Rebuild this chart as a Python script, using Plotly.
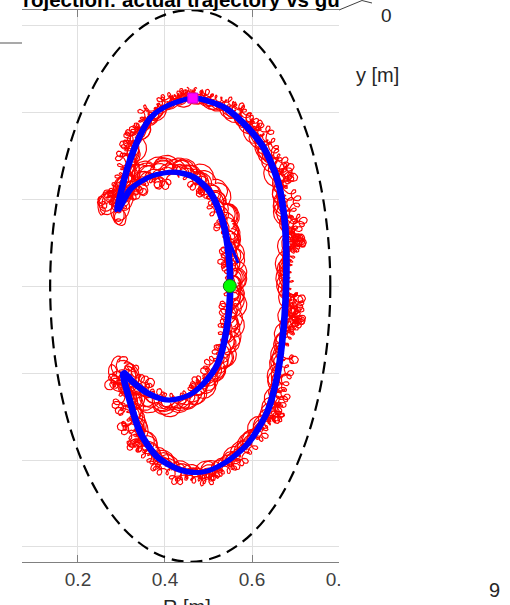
import numpy as np
import plotly.graph_objects as go

# Guiding-centre path knots in the poloidal plane (R, Z), metres
gc_R = [0.464, 0.533, 0.579, 0.625, 0.658, 0.674, 0.678, 0.676, 0.671, 0.658,
        0.635, 0.589, 0.533, 0.481, 0.435, 0.382, 0.343, 0.320, 0.303, 0.326,
        0.359, 0.405, 0.451, 0.487, 0.520, 0.540, 0.549, 0.543, 0.531, 0.503,
        0.464, 0.418, 0.366, 0.320, 0.290, 0.297, 0.313, 0.336, 0.366, 0.405,
        0.464]
gc_Z = [0.432, 0.412, 0.375, 0.320, 0.244, 0.152, 0.060, -0.032, -0.101, -0.200,
        -0.285, -0.361, -0.407, -0.428, -0.423, -0.393, -0.338, -0.269, -0.198, -0.221,
        -0.246, -0.262, -0.251, -0.223, -0.177, -0.101, 0.000, 0.094, 0.152, 0.216,
        0.251, 0.262, 0.253, 0.225, 0.175, 0.214, 0.274, 0.336, 0.389, 0.416,
        0.432]
# Centre of the full-orbit band relative to the guiding centre, metres
band_dR = [0.000, 0.004, 0.008, 0.012, 0.014, 0.014, 0.014, 0.014, 0.013, 0.012,
           0.010, 0.006, 0.002, 0.000, -0.002, -0.004, -0.006, -0.007, -0.007, -0.004,
           0.000, 0.002, 0.004, 0.006, 0.008, 0.010, 0.010, 0.010, 0.009, 0.006,
           0.003, 0.000, -0.002, -0.004, -0.005, -0.005, -0.004, -0.003, -0.002, 0.000,
           0.000]
band_dZ = [0.008, 0.007, 0.005, 0.002, 0.000, 0.000, 0.000, 0.000, 0.000, -0.002,
           -0.005, -0.007, -0.008, -0.008, -0.008, -0.007, -0.005, -0.003, 0.000, -0.003,
           -0.005, -0.005, -0.005, -0.004, -0.001, 0.000, 0.000, 0.001, 0.002, 0.004,
           0.005, 0.005, 0.005, 0.002, -0.004, 0.000, 0.004, 0.006, 0.007, 0.008,
           0.008]
# Half-width of the full-orbit band (slow excursion), metres
excursion = [0.013, 0.016, 0.019, 0.023, 0.025, 0.025, 0.025, 0.025, 0.024, 0.023,
             0.022, 0.019, 0.018, 0.018, 0.019, 0.022, 0.025, 0.029, 0.032, 0.031,
             0.027, 0.023, 0.021, 0.021, 0.022, 0.022, 0.022, 0.022, 0.023, 0.025,
             0.026, 0.027, 0.028, 0.030, 0.031, 0.029, 0.025, 0.020, 0.017, 0.014,
             0.013]
# Larmor radius (small loops), metres
larmor = [0.007, 0.007, 0.008, 0.008, 0.009, 0.009, 0.009, 0.009, 0.009, 0.008,
          0.008, 0.008, 0.008, 0.008, 0.008, 0.008, 0.009, 0.009, 0.010, 0.010,
          0.009, 0.008, 0.008, 0.008, 0.008, 0.008, 0.008, 0.008, 0.008, 0.008,
          0.008, 0.009, 0.009, 0.010, 0.010, 0.010, 0.009, 0.008, 0.008, 0.007,
          0.007]

# Full-orbit turns: amplitude scale and phase per turn
turn_scale = [1.0, 0.8, 0.6, 1.1, 0.9, 0.45, 0.7, 1.2, 0.35, 0.95]
turn_phase = [0.0, 0.63, 1.26, 1.88, 2.51, 3.14, 3.77, 4.40, 5.03, 5.65]
gyro_pitch = 0.024      # drift along the path per gyration, m
wobble_pitch = 0.14     # drift along the path per slow excursion, m

# Guiding-centre turns (small spread between successive passes)
gc_turn_dR = [0.000, 0.004, -0.003, 0.005]
gc_turn_dZ = [0.000, 0.002, -0.002, -0.002]
gc_stub_R = [0.549, 0.568]
gc_stub_Z = [0.099, 0.053]

# Vessel wall (ellipse) and start / end points
wall_R0, wall_Z0, wall_a, wall_b = 0.458, 0.0, 0.322, 0.634
start_R, start_Z = 0.549, 0.0
end_R, end_Z = 0.464, 0.432

x_ticks = [0.2, 0.4, 0.6, 0.8]
x_ticktext = ["0.2", "0.4", "0.6", "0.8"]
y_ticks = [-0.6, -0.4, -0.2, 0.0, 0.2, 0.4, 0.6]

# ---- full orbit = guiding centre + band offset + slow excursion + gyration ----
R = np.array(gc_R)
Z = np.array(gc_Z)
s_knot = np.concatenate([[0.0], np.cumsum(np.hypot(np.diff(R), np.diff(Z)))])
s = np.arange(0.0, s_knot[-1], gyro_pitch / 26)

def along(values):
    return np.interp(s, s_knot, np.array(values))

Rc = along(gc_R) + along(band_dR)
Zc = along(gc_Z) + along(band_dZ)
rc = along(larmor)
ec = along(excursion)

fig = go.Figure()
for k in range(len(turn_scale)):
    phi = 2 * np.pi * s / (gyro_pitch * (1 + 0.04 * k)) + turn_phase[k]
    psi = 2 * np.pi * s / (wobble_pitch * (1 + 0.09 * k)) + 1.9 * turn_phase[k]
    sc = turn_scale[k]
    fig.add_trace(go.Scatter(
        x=Rc + sc * ec * np.cos(psi) + rc * np.cos(phi),
        y=Zc + sc * ec * np.sin(psi) + rc * np.sin(phi),
        mode="lines", line=dict(color="#ff0000", width=1.15),
        hoverinfo="skip"))

for k in range(len(gc_turn_dR)):
    fig.add_trace(go.Scatter(
        x=[r + gc_turn_dR[k] for r in gc_R],
        y=[z + gc_turn_dZ[k] for z in gc_Z],
        mode="lines", line=dict(color="#0000ff", width=3.2, shape="spline", smoothing=0.8),
        hoverinfo="skip"))
fig.add_trace(go.Scatter(x=gc_stub_R, y=gc_stub_Z, mode="lines",
                         line=dict(color="#0000ff", width=3)))

fig.add_trace(go.Scatter(x=[start_R], y=[start_Z], mode="markers",
                         marker=dict(symbol="circle", size=13, color="#00ff00",
                                     line=dict(color="#1a6b1a", width=1))))
fig.add_trace(go.Scatter(x=[end_R], y=[end_Z], mode="markers",
                         marker=dict(symbol="square", size=10, color="#ff00ff",
                                     line=dict(color="#d000d0", width=1))))

# vessel wall
fig.add_shape(type="circle", xref="x", yref="y",
              x0=wall_R0 - wall_a, x1=wall_R0 + wall_a,
              y0=wall_Z0 - wall_b, y1=wall_Z0 + wall_b,
              line=dict(color="black", width=2.2, dash="12px,7px"), layer="above")

# pixel -> paper helpers for the plot box (left 22, right 339, top 10, bottom 562)
def px(xp):
    return (xp - 22) / 317.0

def py(yp):
    return (562 - yp) / 552.0

# neighbouring axes fragments
fig.add_shape(type="line", xref="paper", yref="paper", x0=px(0), x1=px(22),
              y0=py(43), y1=py(43), line=dict(color="#8c8c8c", width=1.5))
fig.add_shape(type="path", xref="paper", yref="paper",
              path=f"M {px(339)} {py(10)} L {px(362)} {py(0.5)} L {px(372)} {py(3)}",
              line=dict(color="#404040", width=1))
fig.add_shape(type="rect", xref="paper", yref="paper", x0=px(341.5), x1=px(420),
              y0=py(600), y1=py(566), fillcolor="white", line=dict(width=0), layer="above")

font = "Liberation Sans, Arial, Helvetica, sans-serif"
fig.add_annotation(text="<b>rojection: actual trajectory vs gu</b>", xref="paper", yref="paper",
                   x=px(21), y=py(0), xanchor="left", yanchor="middle", showarrow=False,
                   font=dict(family=font, size=20.5, color="#000000"))
fig.add_annotation(text="R [m]", xref="paper", yref="paper", x=px(187), y=py(607),
                   xanchor="center", yanchor="middle", showarrow=False,
                   font=dict(family=font, size=20, color="#262626"))
fig.add_annotation(text="0", xref="paper", yref="paper", x=px(386), y=py(15),
                   xanchor="center", yanchor="middle", showarrow=False,
                   font=dict(family=font, size=19, color="#262626"))
fig.add_annotation(text="y [m]", xref="paper", yref="paper", x=px(377), y=py(75),
                   xanchor="center", yanchor="middle", showarrow=False,
                   font=dict(family=font, size=20, color="#262626"))
fig.add_annotation(text="9", xref="paper", yref="paper", x=px(494), y=py(590),
                   xanchor="center", yanchor="middle", showarrow=False,
                   font=dict(family=font, size=20, color="#262626"))

fig.update_xaxes(range=[0.0713, 0.8], tickvals=x_ticks, ticktext=x_ticktext,
                 ticks="inside", ticklen=7, tickcolor="#808080", tickwidth=1,
                 showline=True, linecolor="#808080", linewidth=1.3, mirror="ticks",
                 showgrid=True, gridcolor="#e0e0e0", gridwidth=1, zeroline=False,
                 tickfont=dict(family=font, size=19, color="#404040"))
fig.update_yaxes(range=[-0.6345, 0.6345], tickvals=y_ticks, showticklabels=False,
                 ticks="", showline=False, showgrid=True, gridcolor="#e0e0e0",
                 gridwidth=1, zeroline=False)
fig.update_layout(width=510, height=605, margin=dict(l=22, r=171, t=10, b=43),
                  paper_bgcolor="white", plot_bgcolor="white", showlegend=False)

fig.write_html("out.html")
